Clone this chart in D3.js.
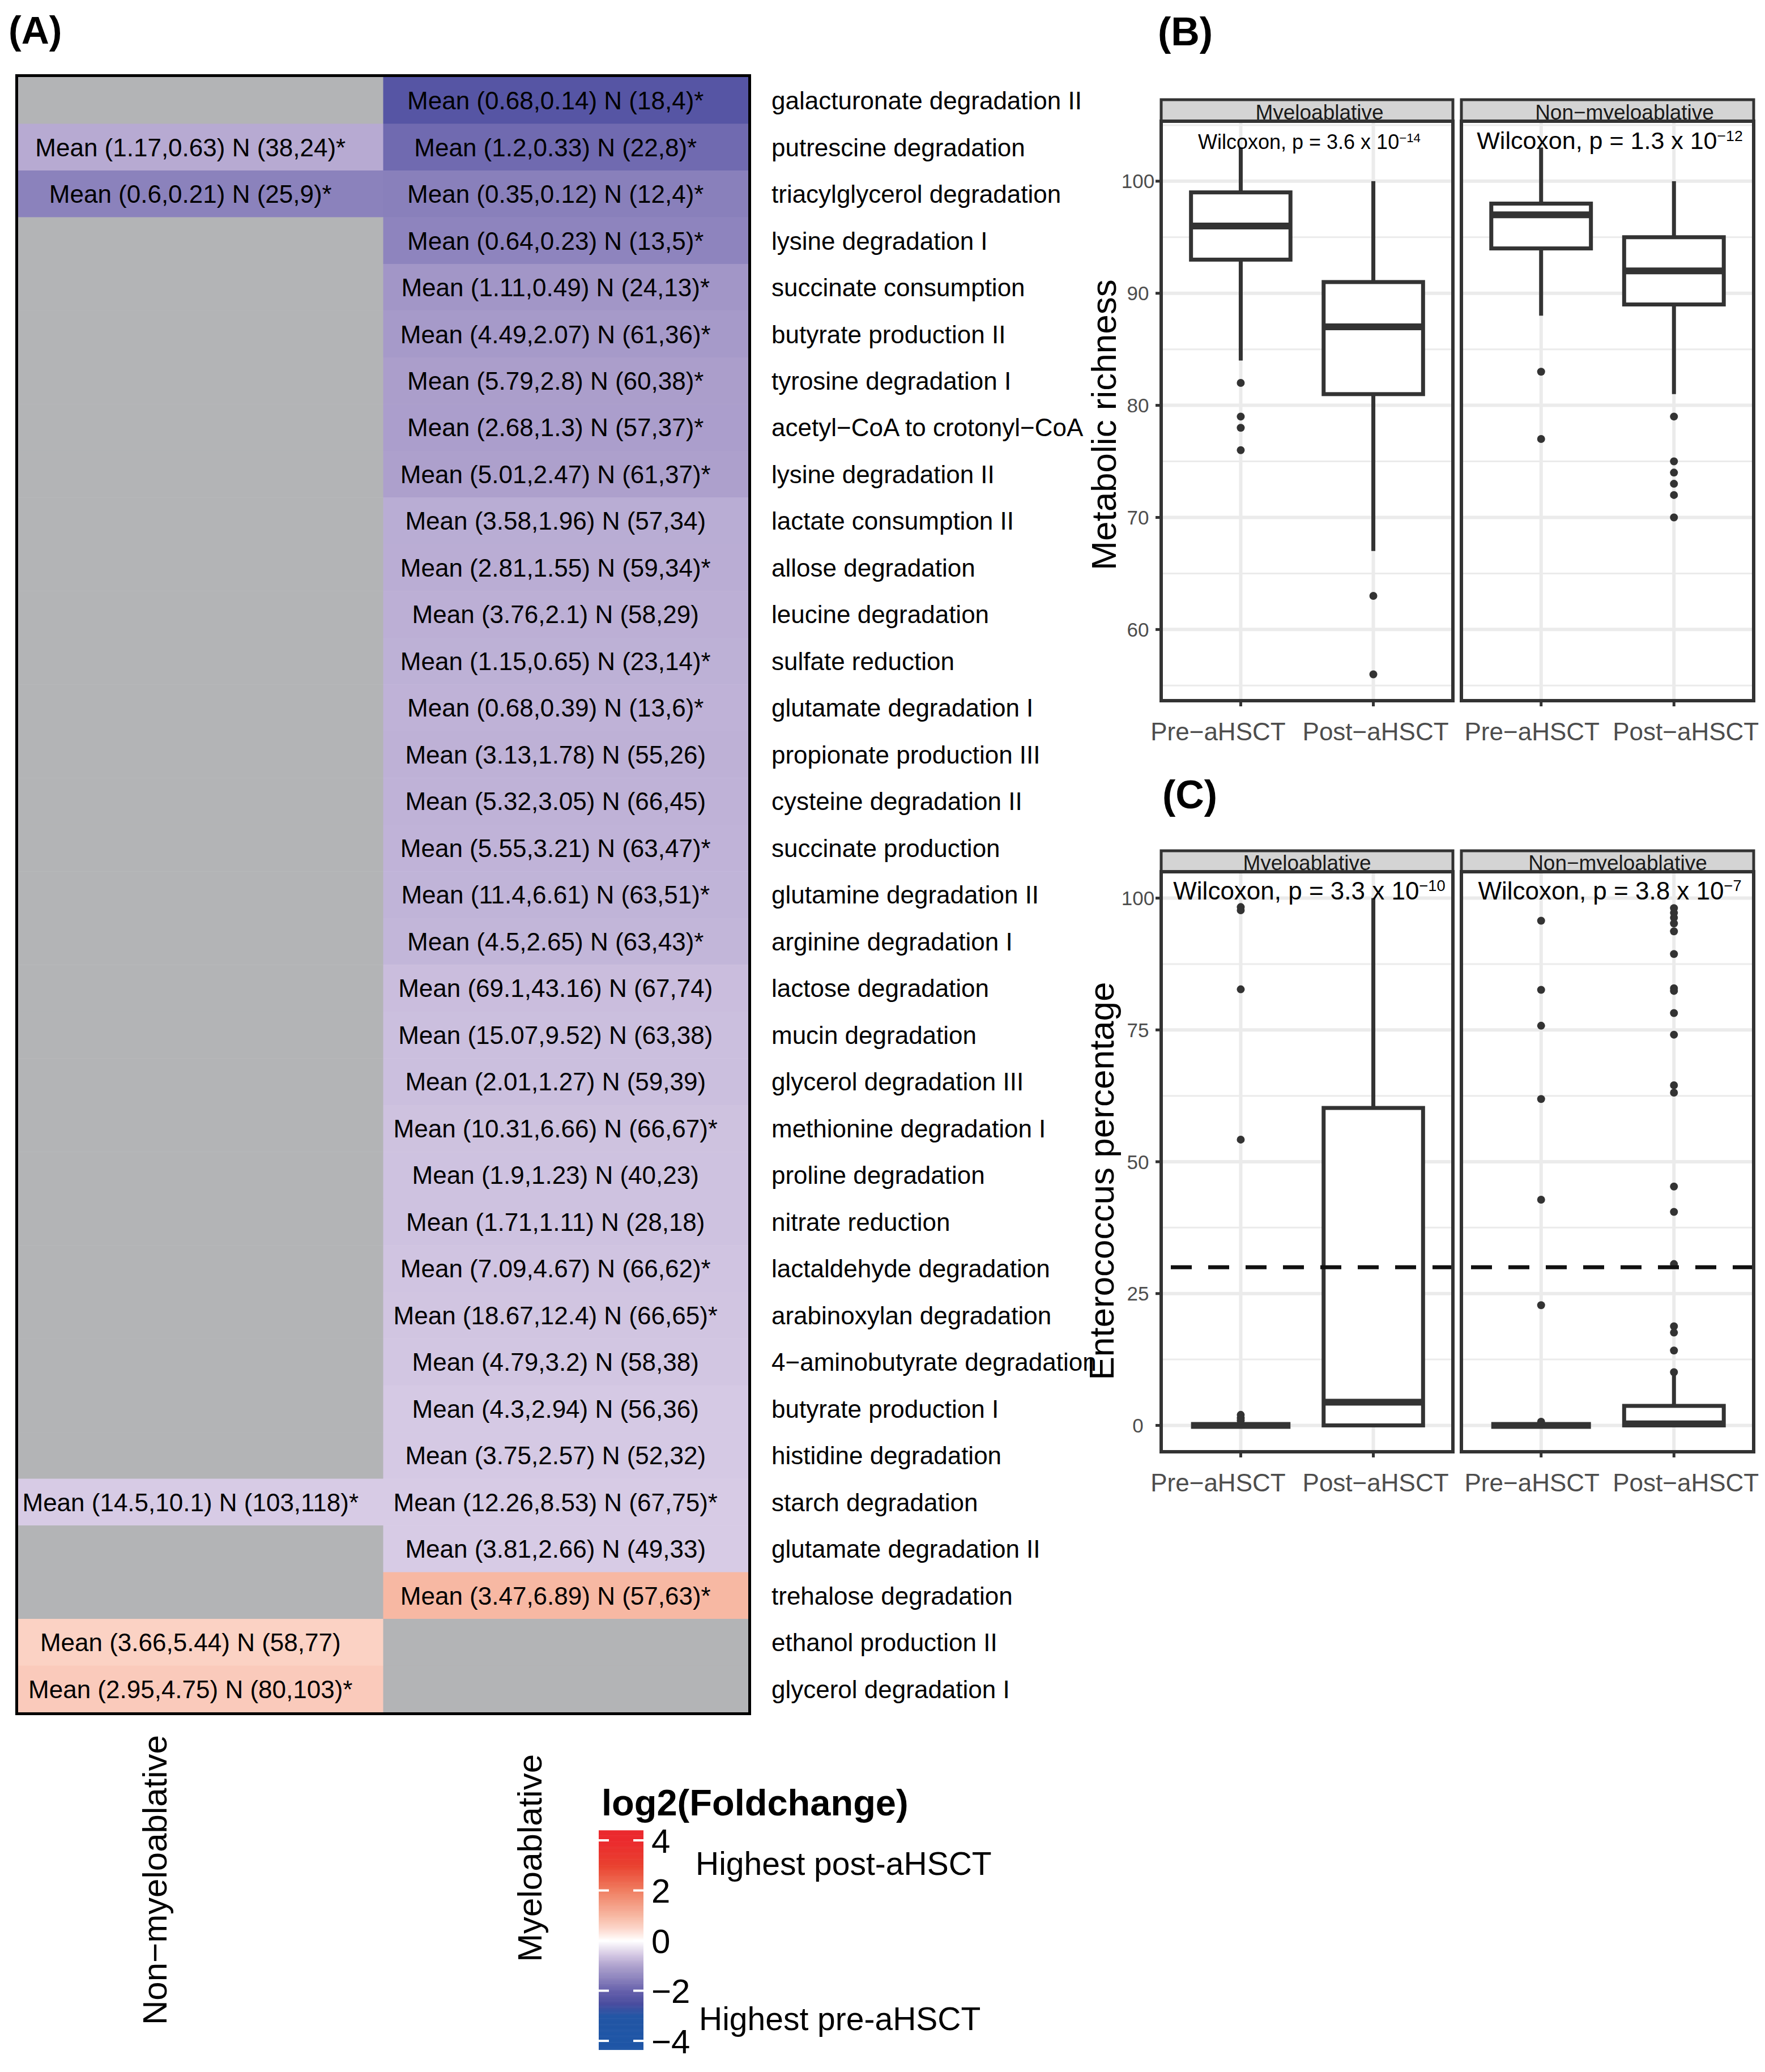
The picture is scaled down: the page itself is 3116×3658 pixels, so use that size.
<!DOCTYPE html>
<html>
<head>
<meta charset="utf-8">
<script src="https://cdn.jsdelivr.net/npm/d3@7"></script>
<style>
  body { margin: 0; background: #fff; }
  svg { display: block; }
  text { font-family: "Liberation Sans", Arial, Helvetica, sans-serif; }
</style>
</head>
<body>
<svg id="fig" width="3116" height="3658"></svg>
<script>
// ---- (A) heatmap data ----
var pathways = ["galacturonate degradation II", "putrescine degradation", "triacylglycerol degradation",
  "lysine degradation I", "succinate consumption", "butyrate production II", "tyrosine degradation I",
  "acetyl−CoA to crotonyl−CoA", "lysine degradation II", "lactate consumption II", "allose degradation",
  "leucine degradation", "sulfate reduction", "glutamate degradation I", "propionate production III",
  "cysteine degradation II", "succinate production", "glutamine degradation II", "arginine degradation I",
  "lactose degradation", "mucin degradation", "glycerol degradation III", "methionine degradation I",
  "proline degradation", "nitrate reduction", "lactaldehyde degradation", "arabinoxylan degradation",
  "4−aminobutyrate degradation", "butyrate production I", "histidine degradation", "starch degradation",
  "glutamate degradation II", "trehalose degradation", "ethanol production II", "glycerol degradation I"];

// Myeloablative column (null = not tested, grey)
var myeloMeanPre  = [0.68, 1.2, 0.35, 0.64, 1.11, 4.49, 5.79, 2.68, 5.01, 3.58, 2.81, 3.76, 1.15, 0.68, 3.13, 5.32, 5.55, 11.4, 4.5, 69.1, 15.07, 2.01, 10.31, 1.9, 1.71, 7.09, 18.67, 4.79, 4.3, 3.75, 12.26, 3.81, 3.47, null, null];
var myeloMeanPost = [0.14, 0.33, 0.12, 0.23, 0.49, 2.07, 2.8, 1.3, 2.47, 1.96, 1.55, 2.1, 0.65, 0.39, 1.78, 3.05, 3.21, 6.61, 2.65, 43.16, 9.52, 1.27, 6.66, 1.23, 1.11, 4.67, 12.4, 3.2, 2.94, 2.57, 8.53, 2.66, 6.89, null, null];
var myeloNPre  = [18, 22, 12, 13, 24, 61, 60, 57, 61, 57, 59, 58, 23, 13, 55, 66, 63, 63, 63, 67, 63, 59, 66, 40, 28, 66, 66, 58, 56, 52, 67, 49, 57, null, null];
var myeloNPost = [4, 8, 4, 5, 13, 36, 38, 37, 37, 34, 34, 29, 14, 6, 26, 45, 47, 51, 43, 74, 38, 39, 67, 23, 18, 62, 65, 38, 36, 32, 75, 33, 63, null, null];
var myeloSig   = [1, 1, 1, 1, 1, 1, 1, 1, 1, 0, 1, 0, 1, 1, 0, 0, 1, 1, 1, 0, 0, 0, 1, 0, 0, 1, 1, 0, 0, 0, 1, 0, 1, 0, 0];

// Non-myeloablative column
var nonMeanPre  = [null, 1.17, 0.6, null, null, null, null, null, null, null, null, null, null, null, null, null, null, null, null, null, null, null, null, null, null, null, null, null, null, null, 14.5, null, null, 3.66, 2.95];
var nonMeanPost = [null, 0.63, 0.21, null, null, null, null, null, null, null, null, null, null, null, null, null, null, null, null, null, null, null, null, null, null, null, null, null, null, null, 10.1, null, null, 5.44, 4.75];
var nonNPre  = [null, 38, 25, null, null, null, null, null, null, null, null, null, null, null, null, null, null, null, null, null, null, null, null, null, null, null, null, null, null, null, 103, null, null, 58, 80];
var nonNPost = [null, 24, 9, null, null, null, null, null, null, null, null, null, null, null, null, null, null, null, null, null, null, null, null, null, null, null, null, null, null, null, 118, null, null, 77, 103];
var nonSig   = [0, 1, 1, 0, 0, 0, 0, 0, 0, 0, 0, 0, 0, 0, 0, 0, 0, 0, 0, 0, 0, 0, 0, 0, 0, 0, 0, 0, 0, 0, 1, 0, 0, 0, 1];

var columns = ["Non−myeloablative", "Myeloablative"];
var legendTicks = [4, 2, 0, -2, -4];
var legendTickLabels = ["4", "2", "0", "−2", "−4"];

// ---- (B) metabolic richness, [facet][group] ----
var facets = ["Myeloablative", "Non−myeloablative"];
var groups = ["Pre−aHSCT", "Post−aHSCT"];
var richQ1  = [[93, 81], [94, 89]];
var richMed = [[96, 87], [97, 92]];
var richQ3  = [[99, 91], [98, 95]];
var richLo  = [[84, 67], [88, 81]];
var richHi  = [[103, 100], [103, 100]];
var richOut = [[[82, 79, 78, 76], [63, 56]], [[83, 77], [79, 75, 74, 73, 72, 70]]];
var richP = ["3.6", "1.3"];
var richExp = ["−14", "−12"];
var richTicks = [60, 70, 80, 90, 100];
var richMinor = [55, 65, 75, 85, 95, 105];

// ---- (C) enterococcus percentage ----
var entQ1  = [[0, 0], [0, 0]];
var entMed = [[0, 4.4], [0, 0.3]];
var entQ3  = [[0, 60.2], [0, 3.7]];
var entLo  = [[0, 0], [0, 0]];
var entHi  = [[0, 100], [0, 9.6]];
var entOut = [[[98.3, 97.7, 82.7, 54.2, 2.0, 1.4, 0.9], []],
              [[95.7, 82.6, 75.8, 61.9, 42.8, 22.8, 0.7],
               [98.1, 97.2, 96.3, 95.2, 93.7, 89.4, 82.9, 82.4, 78.2, 74.1, 64.5, 63.1, 45.3, 40.5, 30.6, 18.8, 17.6, 14.2, 10.1]]];
var entP = ["3.3", "3.8"];
var entExp = ["−10", "−7"];
var entTicks = [0, 25, 50, 75, 100];
var entMinor = [12.5, 37.5, 62.5, 87.5];
var entThreshold = 30;

// colour ramp for log2 fold change
var fcStops  = [-4, -3, -2.5, -2, -1.5, -1, -0.5, 0, 0.5, 1, 2, 3, 4];
var fcColors = ["#1f56a6", "#2356a5", "#4b4d9f", "#6560ab", "#8c83bd", "#aea1cd", "#d9cde6",
                "#ffffff", "#fcd6ca", "#f7b7a2", "#f07e61", "#e9412f", "#eb2a2e"];

var svg = d3.select("#fig");
var color = d3.scaleLinear().domain(fcStops).range(fcColors).clamp(true);

// ================= panel A =================
var hm = {left: 32, right: 1321, top: 136, bottom: 3023};
var xCol = d3.scaleBand().domain(columns).range([hm.left, hm.right]);
var yRow = d3.scaleBand().domain(pathways).range([hm.top, hm.bottom]);

var cells = [];
pathways.forEach(function (p, i) {
  cells.push({row: p, col: columns[0], pre: nonMeanPre[i], post: nonMeanPost[i],
              npre: nonNPre[i], npost: nonNPost[i], sig: nonSig[i]});
  cells.push({row: p, col: columns[1], pre: myeloMeanPre[i], post: myeloMeanPost[i],
              npre: myeloNPre[i], npost: myeloNPost[i], sig: myeloSig[i]});
});

var hmG = svg.append("g");
hmG.selectAll("rect.cell").data(cells).enter().append("rect")
  .attr("class", "cell")
  .attr("x", function (d) { return xCol(d.col); })
  .attr("y", function (d) { return yRow(d.row); })
  .attr("width", xCol.bandwidth() + 0.5)
  .attr("height", yRow.bandwidth() + 0.5)
  .attr("fill", function (d) {
    return d.pre == null ? "#b3b4b6" : color(Math.log2(d.post / d.pre));
  });

hmG.selectAll("text.cell").data(cells.filter(function (d) { return d.pre != null; }))
  .enter().append("text")
  .attr("x", function (d) { return xCol(d.col) + xCol.bandwidth() / 2 - 18; })
  .attr("y", function (d) { return yRow(d.row) + yRow.bandwidth() / 2; })
  .attr("dy", "0.36em")
  .attr("text-anchor", "middle")
  .attr("font-size", 44)
  .text(function (d) {
    return "Mean (" + d.pre + "," + d.post + ") N (" + d.npre + "," + d.npost + ")" + (d.sig ? "*" : "");
  });

hmG.append("rect")
  .attr("x", hm.left - 2.5).attr("y", hm.top - 2.5)
  .attr("width", hm.right - hm.left + 5).attr("height", hm.bottom - hm.top + 5)
  .attr("fill", "none").attr("stroke", "#000").attr("stroke-width", 5);

hmG.selectAll("text.row").data(pathways).enter().append("text")
  .attr("x", 1362)
  .attr("y", function (d) { return yRow(d) + yRow.bandwidth() / 2; })
  .attr("dy", "0.36em")
  .attr("font-size", 44)
  .text(function (d) { return d; });

// column names, rotated
var colLabelPos = [[294, 3063], [956, 3097]];
columns.forEach(function (c, i) {
  svg.append("text")
    .attr("transform", "translate(" + colLabelPos[i][0] + "," + colLabelPos[i][1] + ") rotate(-90)")
    .attr("text-anchor", "end")
    .attr("font-size", 60)
    .text(c);
});

// legend
var lg = svg.append("g");
lg.append("text").attr("x", 1062).attr("y", 3205)
  .attr("font-size", 65).attr("font-weight", "bold").text("log2(Foldchange)");
var yLeg = d3.scaleLinear().domain([-4, 4]).range([3603, 3249]);
var legSteps = d3.range(-4.35, 4.4, 0.05);
lg.selectAll("rect.step").data(legSteps).enter().append("rect")
  .attr("x", 1057).attr("width", 79)
  .attr("y", function (d) { return yLeg(d + 0.05); })
  .attr("height", yLeg(0) - yLeg(0.05) + 0.6)
  .attr("fill", function (d) { return color(d + 0.025); });
legendTicks.forEach(function (t, i) {
  lg.append("line").attr("x1", 1057).attr("x2", 1075).attr("y1", yLeg(t)).attr("y2", yLeg(t))
    .attr("stroke", "#fff").attr("stroke-width", 4);
  lg.append("line").attr("x1", 1118).attr("x2", 1136).attr("y1", yLeg(t)).attr("y2", yLeg(t))
    .attr("stroke", "#fff").attr("stroke-width", 4);
  lg.append("text").attr("x", 1150).attr("y", yLeg(t)).attr("dy", "0.36em")
    .attr("font-size", 60).text(legendTickLabels[i]);
});
lg.append("text").attr("x", 1228).attr("y", 3310).attr("font-size", 57).text("Highest post-aHSCT");
lg.append("text").attr("x", 1234).attr("y", 3584).attr("font-size", 57).text("Highest pre-aHSCT");

// ================= panels B and C =================
var panelX = [[2050, 2565], [2580, 3096]];
var xLabelShift = [[-40, 4], [-16, 21]];

function drawFacets(cfg) {
  var y = d3.scaleLinear().domain(cfg.domain).range([cfg.panelBottom, cfg.panelTop]);
  facets.forEach(function (f, fi) {
    var px = panelX[fi];
    var x = d3.scalePoint().domain(groups).range(px).padding(0.6);
    var bw = x.step() * 0.75;
    var g = svg.append("g");

    // grid
    g.selectAll("line.minor").data(cfg.minor).enter().append("line")
      .attr("x1", px[0]).attr("x2", px[1])
      .attr("y1", function (d) { return y(d); }).attr("y2", function (d) { return y(d); })
      .attr("stroke", "#ebebeb").attr("stroke-width", 3);
    g.selectAll("line.major").data(cfg.ticks).enter().append("line")
      .attr("x1", px[0]).attr("x2", px[1])
      .attr("y1", function (d) { return y(d); }).attr("y2", function (d) { return y(d); })
      .attr("stroke", "#ebebeb").attr("stroke-width", 6);
    g.selectAll("line.vmajor").data(groups).enter().append("line")
      .attr("x1", function (d) { return x(d); }).attr("x2", function (d) { return x(d); })
      .attr("y1", cfg.panelTop).attr("y2", cfg.panelBottom)
      .attr("stroke", "#ebebeb").attr("stroke-width", 6);

    // boxes
    groups.forEach(function (gr, gi) {
      var cx = x(gr);
      var lineCol = "#333333";
      g.append("line").attr("x1", cx).attr("x2", cx)
        .attr("y1", y(cfg.q3[fi][gi])).attr("y2", y(cfg.hi[fi][gi]))
        .attr("stroke", lineCol).attr("stroke-width", 7);
      g.append("line").attr("x1", cx).attr("x2", cx)
        .attr("y1", y(cfg.q1[fi][gi])).attr("y2", y(cfg.lo[fi][gi]))
        .attr("stroke", lineCol).attr("stroke-width", 7);
      g.append("rect")
        .attr("x", cx - bw / 2).attr("width", bw)
        .attr("y", y(cfg.q3[fi][gi])).attr("height", y(cfg.q1[fi][gi]) - y(cfg.q3[fi][gi]))
        .attr("fill", "#fff").attr("stroke", lineCol).attr("stroke-width", 7);
      g.append("line").attr("x1", cx - bw / 2).attr("x2", cx + bw / 2)
        .attr("y1", y(cfg.med[fi][gi])).attr("y2", y(cfg.med[fi][gi]))
        .attr("stroke", lineCol).attr("stroke-width", 12);
      g.selectAll(null).data(cfg.out[fi][gi]).enter().append("circle")
        .attr("cx", cx).attr("cy", function (d) { return y(d); })
        .attr("r", 7).attr("fill", lineCol);
    });

    if (cfg.hline != null) {
      g.append("line").attr("x1", px[0]).attr("x2", px[1])
        .attr("y1", y(cfg.hline)).attr("y2", y(cfg.hline))
        .attr("stroke", "#111").attr("stroke-width", 7).attr("stroke-dasharray", "37,29")
        .attr("stroke-dashoffset", -17);
    }

    // p-value label
    var pt = g.append("text")
      .attr("x", (px[0] + px[1]) / 2 + 4).attr("y", y(cfg.pY))
      .attr("text-anchor", "middle").attr("font-size", cfg.pSize[fi]);
    pt.append("tspan").text("Wilcoxon, p = " + cfg.p[fi] + " x 10");
    pt.append("tspan").attr("dy", "-0.55em").attr("font-size", cfg.pSize[fi] * 0.62)
      .text(cfg.exp[fi]);

    // strip
    g.append("rect").attr("x", px[0]).attr("y", cfg.stripTop)
      .attr("width", px[1] - px[0]).attr("height", cfg.panelTop - cfg.stripTop)
      .attr("fill", "#d4d4d4").attr("stroke", "#333").attr("stroke-width", 5);
    var clipId = "strip" + cfg.id + fi;
    g.append("clipPath").attr("id", clipId).append("rect")
      .attr("x", px[0]).attr("y", cfg.stripTop)
      .attr("width", px[1] - px[0]).attr("height", cfg.panelTop - cfg.stripTop - 2);
    g.append("text").attr("clip-path", "url(#" + clipId + ")")
      .attr("x", (px[0] + px[1]) / 2 + cfg.stripShift[fi]).attr("y", cfg.panelTop - 3)
      .attr("text-anchor", "middle").attr("font-size", 37).attr("fill", "#1a1a1a")
      .text(f);

    // panel border
    g.append("rect").attr("x", px[0]).attr("y", cfg.panelTop)
      .attr("width", px[1] - px[0]).attr("height", cfg.panelBottom - cfg.panelTop)
      .attr("fill", "none").attr("stroke", "#333").attr("stroke-width", 6);

    // x axis
    groups.forEach(function (gr, gi) {
      g.append("line").attr("x1", x(gr)).attr("x2", x(gr))
        .attr("y1", cfg.panelBottom).attr("y2", cfg.panelBottom + 10)
        .attr("stroke", "#333").attr("stroke-width", 5);
      g.append("text").attr("x", x(gr) + xLabelShift[fi][gi]).attr("y", cfg.panelBottom + 70)
        .attr("text-anchor", "middle").attr("font-size", 44).attr("fill", "#4d4d4d")
        .text(gr);
    });

    // y axis on first facet only
    if (fi === 0) {
      cfg.ticks.forEach(function (t) {
        g.append("line").attr("x1", px[0] - 10).attr("x2", px[0])
          .attr("y1", y(t)).attr("y2", y(t))
          .attr("stroke", "#333").attr("stroke-width", 5);
        g.append("text").attr("x", px[0] - 41).attr("y", y(t)).attr("dy", "0.36em")
          .attr("text-anchor", "middle").attr("font-size", 35).attr("fill", "#4d4d4d")
          .text(t);
      });
    }
  });

  svg.append("text")
    .attr("transform", "translate(" + cfg.titlePos[0] + "," + cfg.titlePos[1] + ") rotate(-90)")
    .attr("text-anchor", "middle").attr("font-size", 62)
    .text(cfg.title);
  svg.append("text").attr("x", cfg.letterPos[0]).attr("y", cfg.letterPos[1])
    .attr("font-size", 70).attr("font-weight", "bold").text(cfg.letter);
}

drawFacets({
  id: "B", letter: "(B)", letterPos: [2044, 80],
  stripTop: 176, panelTop: 214, panelBottom: 1237, domain: [53.65, 105.35],
  ticks: richTicks, minor: richMinor,
  q1: richQ1, med: richMed, q3: richQ3, lo: richLo, hi: richHi, out: richOut,
  p: richP, exp: richExp, pSize: [36, 43], pY: 102.85, hline: null, stripShift: [22, 30],
  title: "Metabolic richness", titlePos: [1970, 750]
});

drawFacets({
  id: "C", letter: "(C)", letterPos: [2052, 1427],
  stripTop: 1502, panelTop: 1539, panelBottom: 2563, domain: [-5, 105],
  ticks: entTicks, minor: entMinor,
  q1: entQ1, med: entMed, q3: entQ3, lo: entLo, hi: entHi, out: entOut,
  p: entP, exp: entExp, pSize: [44, 44], pY: 99.7, hline: entThreshold, stripShift: [0, 18],
  title: "Enterococcus percentage", titlePos: [1966, 2085]
});

svg.append("text").attr("x", 15).attr("y", 77)
  .attr("font-size", 68).attr("font-weight", "bold").text("(A)");
</script>
</body>
</html>
